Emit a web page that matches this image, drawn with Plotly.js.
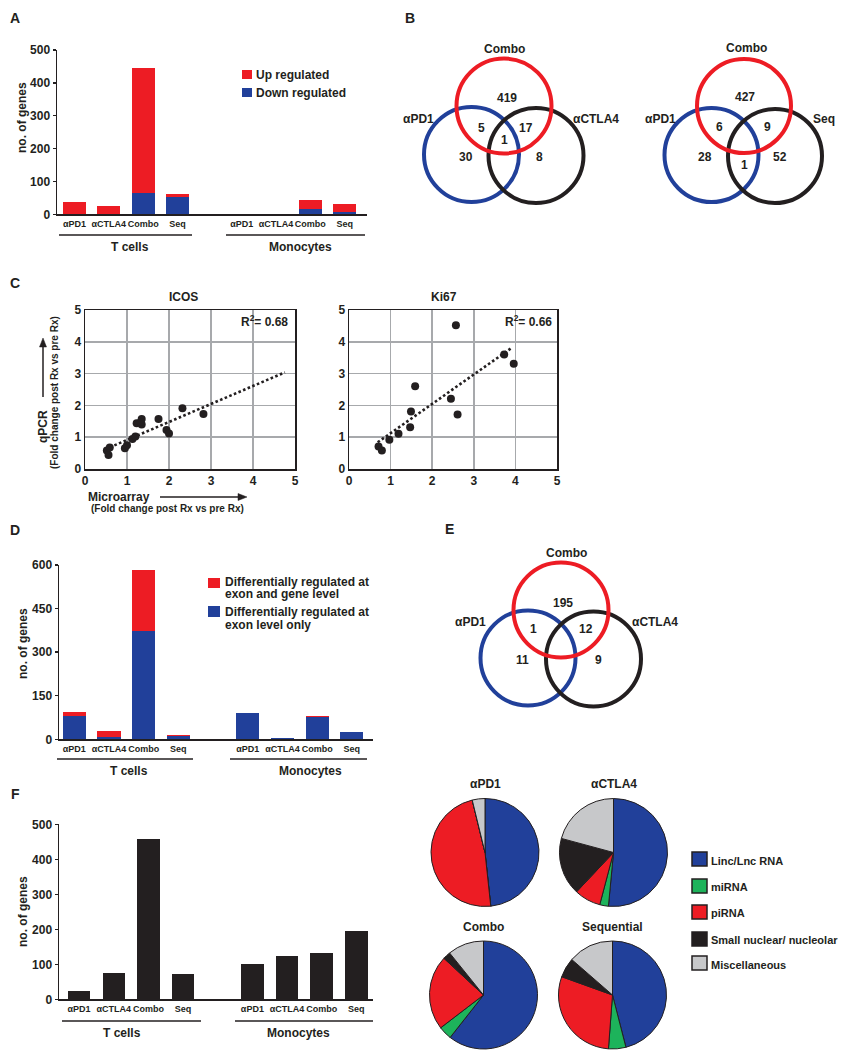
<!DOCTYPE html>
<html><head><meta charset="utf-8">
<script src="https://cdn.plot.ly/plotly-3.0.1.min.js"></script>
<style>html,body{margin:0;padding:0;background:#fff}#chart{width:843px;height:1050px}</style>
</head><body><div id="chart"></div>
<script>
// ---------------- DATA ----------------
const categories = ['αPD1', 'αCTLA4', 'Combo', 'Seq', 'αPD1', 'αCTLA4', 'Combo', 'Seq'];
const groupNames = ['T cells', 'Monocytes'];
const yTitle = 'no. of genes';

// Panel A
const aSeriesNames = ['Up regulated', 'Down regulated'];
const aUpRegulated = [36, 26, 381, 7, 0, 2, 26, 25];
const aDownRegulated = [0, 0, 64, 54, 0, 0, 17, 7];
const aTicks = [0, 100, 200, 300, 400, 500];

// Panel B (Venn counts)
const vennB1Sets = ['Combo', 'αPD1', 'αCTLA4'];
const vennB1Counts = [419, 5, 17, 1, 30, 8];
const vennB2Sets = ['Combo', 'αPD1', 'Seq'];
const vennB2Counts = [427, 6, 9, 28, 1, 52];

// Panel C
const icosMicroarray = [0.52, 0.56, 0.59, 0.95, 1.00, 1.13, 1.20, 1.23, 1.35, 1.35, 1.75, 1.94, 2.00, 2.32, 2.82, 1.33];
const icosQpcr       = [0.58, 0.44, 0.68, 0.65, 0.75, 0.94, 1.02, 1.44, 1.57, 1.40, 1.57, 1.23, 1.12, 1.91, 1.73, 1.48];
const icosTrendX = [0.48, 4.76];
const icosTrendY = [0.62, 3.04];
const icosR2 = '0.68';
const ki67Microarray = [0.71, 0.79, 0.97, 1.19, 1.47, 1.49, 1.59, 2.45, 2.57, 2.61, 3.73, 3.96];
const ki67Qpcr       = [0.71, 0.58, 0.92, 1.11, 1.31, 1.81, 2.60, 2.21, 4.52, 1.71, 3.60, 3.31];
const ki67TrendX = [0.69, 3.91];
const ki67TrendY = [0.84, 3.81];
const ki67R2 = '0.66';
const cTicks = [0, 1, 2, 3, 4, 5];

// Panel D
const dSeriesNames = ['Differentially regulated at<br>exon and gene level', 'Differentially regulated at<br>exon level only'];
const dExonAndGene = [12, 21, 209, 4, 0, 0, 3, 0];
const dExonOnly = [81, 8, 373, 11, 89, 5, 76, 25];
const dTicks = [0, 150, 300, 450, 600];

// Panel E
const vennESets = ['Combo', 'αPD1', 'αCTLA4'];
const vennECounts = [195, 1, 12, 11, 9];

// Panel F
const fCounts = [25, 74, 457, 72, 102, 125, 131, 195];
const fTicks = [0, 100, 200, 300, 400, 500];
const pieTitles = ['αPD1', 'αCTLA4', 'Combo', 'Sequential'];
const pieLabels = ['Linc/Lnc RNA', 'miRNA', 'piRNA', 'Small nuclear/ nucleolar', 'Miscellaneous'];
const pieAPD1   = [48.3, 0, 47.9, 0, 3.8];
const pieACTLA4 = [51.5, 2.6, 7.9, 17.2, 20.8];
const pieCombo  = [60.6, 4.0, 22.3, 2.3, 10.8];
const pieSeq    = [46.0, 5.2, 29.3, 5.9, 13.6];

// ---------------- STYLE / LAYOUT ----------------
const W = 843, H = 1050;
const px = x => x / W;
const py = y => 1 - y / H;
const RED = '#ED1C24', BLUE = '#21409A', BLACK = '#231F20', GREEN = '#1DB35B', GRAY = '#C7C8CA';
const pieColors = [BLUE, GREEN, RED, BLACK, GRAY];
const FONT = 'Liberation Sans, Arial, Helvetica, sans-serif';

const xPos = gap => categories.map((_, i) => i + (i >= 4 ? gap : 0));
const posA = xPos(0.87), posD = xPos(1.0), posF = xPos(1.0);

const annotations = [];
const shapes = [];
function txt(text, x, y, size, o = {}) {
  annotations.push(Object.assign({
    text: '<b>' + text + '</b>', x: px(x), y: py(y), xref: 'paper', yref: 'paper',
    showarrow: false, xanchor: 'center', yanchor: 'middle',
    font: {family: o.family || FONT, size: size, color: BLACK}
  }, o.extra || {}));
}
function line(x0, y0, x1, y1, w = 1.5) {
  shapes.push({type: 'line', xref: 'paper', yref: 'paper', x0: px(x0), y0: py(y0), x1: px(x1), y1: py(y1),
    line: {color: BLACK, width: w}});
}
function rect(x0, y0, x1, y1, color, border) {
  shapes.push({type: 'rect', xref: 'paper', yref: 'paper', x0: px(x0), y0: py(y1), x1: px(x1), y1: py(y0),
    fillcolor: color, line: {color: border || color, width: border ? 1.5 : 0}});
}
function circle(cx, cy, r, color) {
  shapes.push({type: 'circle', xref: 'paper', yref: 'paper', x0: px(cx - r), x1: px(cx + r), y0: py(cy + r), y1: py(cy - r),
    line: {color: color, width: 4}});
}
function tri(pts) {
  const p = pts.map((q, i) => (i ? 'L' : 'M') + px(q[0]) + ',' + py(q[1])).join('') + 'Z';
  shapes.push({type: 'path', xref: 'paper', yref: 'paper', path: p, fillcolor: BLACK, line: {color: BLACK, width: 0.5}});
}

// Panel letters
[['A', 15, 18], ['B', 410, 18], ['C', 15, 283], ['D', 15, 530], ['E', 450, 529], ['F', 15, 794]]
  .forEach(([t, x, y]) => txt(t, x, y, 14));

// Bar axes helpers
function barX(dom, range, pos) {
  return {domain: dom, range: range, tickvals: pos, ticktext: categories, tickangle: 0, showline: true, linecolor: BLACK,
    linewidth: 1.5, ticks: '', showgrid: false, zeroline: false, fixedrange: true,
    tickfont: {family: FONT, size: 9, color: BLACK, weight: 'bold'}};
}
function barY(dom, range, tv) {
  return {domain: dom, range: range, tickvals: tv, showline: true, linecolor: BLACK, linewidth: 1.5,
    ticks: 'outside', ticklen: 3, tickwidth: 1.5, tickcolor: BLACK, showgrid: false, zeroline: false, fixedrange: true,
    tickfont: {family: FONT, size: 12, color: BLACK, weight: 'bold'}};
}
function scatAx(dom, anchor) {
  return {domain: dom, anchor: anchor, range: [0, 5], tickvals: cTicks, showgrid: true, gridcolor: '#A7A9AC', gridwidth: 1.5,
    showline: true, mirror: true, linecolor: BLACK, linewidth: 1.5, zeroline: false, ticks: '', fixedrange: true,
    tickfont: {family: FONT, size: 12, color: BLACK, weight: 'bold'}};
}

// ---- Traces ----
const traces = [];
// A
traces.push({type: 'bar', x: posA, y: aDownRegulated, name: aSeriesNames[1], marker: {color: BLUE}, width: 0.67, xaxis: 'x', yaxis: 'y', showlegend: false});
traces.push({type: 'bar', x: posA, y: aUpRegulated, name: aSeriesNames[0], marker: {color: RED}, width: 0.67, xaxis: 'x', yaxis: 'y', showlegend: false});
// D
traces.push({type: 'bar', x: posD, y: dExonOnly, name: dSeriesNames[1], marker: {color: BLUE}, width: 0.67, xaxis: 'x2', yaxis: 'y2', showlegend: false});
traces.push({type: 'bar', x: posD, y: dExonAndGene, name: dSeriesNames[0], marker: {color: RED}, width: 0.67, xaxis: 'x2', yaxis: 'y2', showlegend: false});
// F
traces.push({type: 'bar', x: posF, y: fCounts, name: yTitle, marker: {color: BLACK}, width: 0.65, xaxis: 'x3', yaxis: 'y3', showlegend: false});
// C
const dotLine = {color: BLACK, width: 2.6, dash: '2.6px,2.4px'};
traces.push({type: 'scatter', mode: 'lines', x: icosTrendX, y: icosTrendY, line: dotLine, xaxis: 'x4', yaxis: 'y4', showlegend: false});
traces.push({type: 'scatter', mode: 'markers', x: icosMicroarray, y: icosQpcr, marker: {color: BLACK, size: 8}, xaxis: 'x4', yaxis: 'y4', showlegend: false, name: 'ICOS'});
traces.push({type: 'scatter', mode: 'lines', x: ki67TrendX, y: ki67TrendY, line: dotLine, xaxis: 'x5', yaxis: 'y5', showlegend: false});
traces.push({type: 'scatter', mode: 'markers', x: ki67Microarray, y: ki67Qpcr, marker: {color: BLACK, size: 8}, xaxis: 'x5', yaxis: 'y5', showlegend: false, name: 'Ki67'});
// Pies
const pieGeom = [[485, 852.5], [613.5, 852.5], [483.5, 995], [612.5, 995]];
const pieR = 54;
[pieAPD1, pieACTLA4, pieCombo, pieSeq].forEach((vals, i) => {
  const [cx, cy] = pieGeom[i];
  traces.push({type: 'pie', labels: pieLabels, values: vals, name: pieTitles[i], sort: false, direction: 'clockwise', rotation: 0,
    textinfo: 'none', showlegend: false, marker: {colors: pieColors, line: {color: BLACK, width: 1}},
    domain: {x: [px(cx - pieR), px(cx + pieR)], y: [py(cy + pieR), py(cy - pieR)]}});
  txt(pieTitles[i], cx, i < 2 ? 784 : 927, 12);
});

// ---- Panel A decorations ----
txt(yTitle, 22, 118, 12, {extra: {textangle: -90}});
line(59, 235, 192, 235); line(226, 235, 365, 235);
txt(groupNames[0], 129.5, 247, 12); txt(groupNames[1], 300, 247, 12);
rect(242, 70, 252, 79, RED); rect(242, 88, 252, 97, BLUE);
txt(aSeriesNames[0], 254, 74.5, 12, {extra: {xanchor: 'left'}});
txt(aSeriesNames[1], 254, 92.5, 12, {extra: {xanchor: 'left'}});

// ---- Panel B Venns ----
function venn(circles, sets, setPos, counts, countPos) {
  circles.forEach(([cx, cy, r, c]) => circle(cx, cy, r, c));
  sets.forEach((s, i) => txt(s, setPos[i][0], setPos[i][1], 12));
  counts.forEach((n, i) => txt(String(n), countPos[i][0], countPos[i][1], 12));
}
venn([[471.5, 154.5, 47.5, BLUE], [536, 155.5, 47.5, BLACK], [504, 106, 47.5, RED]],
  vennB1Sets, [[505, 49], [418, 119], [596, 119]],
  vennB1Counts, [[507, 98], [481, 128], [526, 128], [505, 140], [466, 157], [539, 157]]);
venn([[711.5, 155, 47, BLUE], [775, 156, 47, BLACK], [744, 106, 47, RED]],
  vennB2Sets, [[746.5, 48], [660, 119], [824, 119]],
  vennB2Counts, [[745, 97], [719, 127], [767, 127], [705, 157], [744, 165], [780, 157]]);

// ---- Panel C decorations ----
txt('ICOS', 183, 297, 12); txt('Ki67', 443.5, 297, 12);
txt('R<sup>2</sup>= ' + icosR2, 290, 321, 12, {extra: {xanchor: 'right'}});
txt('R<sup>2</sup>= ' + ki67R2, 554, 321, 12, {extra: {xanchor: 'right'}});
txt('qPCR', 43, 427, 12, {extra: {textangle: -90}});
txt('(Fold change post Rx vs pre Rx)', 54, 393, 10, {extra: {textangle: -90}});
txt('Microarray', 119, 497, 12);
txt('(Fold change post Rx vs pre Rx)', 167, 509, 10);
// arrows (shapes)
line(43, 397, 43, 345);
tri([[43, 338], [39.5, 347], [46.5, 347]]);
line(160, 497, 240, 497);
tri([[247, 497], [238, 493.5], [238, 500.5]]);

// ---- Panel D decorations ----
txt(yTitle, 23, 644, 12, {extra: {textangle: -90}});
line(57, 759, 193, 759); line(230, 759, 367, 759);
txt(groupNames[0], 129, 771, 12); txt(groupNames[1], 310, 771, 12);
rect(208, 578, 220, 588, RED); rect(208, 606, 220, 617, BLUE);
dSeriesNames[0].split('<br>').forEach((l, k) => txt(l, 223, 582 + k * 11.5, 12, {extra: {xanchor: 'left'}}));
dSeriesNames[1].split('<br>').forEach((l, k) => txt(l, 223, 612 + k * 12.5, 12, {extra: {xanchor: 'left'}}));

// ---- Panel E Venn ----
venn([[528, 658, 47.5, BLUE], [593.5, 659, 47.5, BLACK], [561, 610, 47.5, RED]],
  vennESets, [[566, 553], [470.5, 622], [654.5, 622]],
  vennECounts, [[563, 603], [533, 629], [586, 629], [522, 660], [598, 660]]);

// ---- Panel F decorations ----
txt(yTitle, 23, 912, 12, {extra: {textangle: -90}});
line(62, 1021, 201, 1021); line(235, 1021, 373, 1021);
txt(groupNames[0], 122, 1033, 12); txt(groupNames[1], 298, 1033, 12);
const legY = [[852, 866, 861], [879, 893, 887], [905, 919, 913], [932, 946, 940], [956, 970, 965]];
pieLabels.forEach((l, i) => {
  rect(692, legY[i][0], 707, legY[i][1], pieColors[i], BLACK);
  txt(l, 709, legY[i][2], 11, {extra: {xanchor: 'left'}});
});

const layout = {
  width: W, height: H, margin: {l: 0, r: 0, t: 0, b: 0}, paper_bgcolor: '#fff', plot_bgcolor: 'rgba(0,0,0,0)',
  barmode: 'stack', showlegend: false, font: {family: FONT, color: BLACK},
  xaxis: Object.assign(barX([px(57), px(367)], [-0.51, 8.52], posA), {anchor: 'y'}),
  yaxis: Object.assign(barY([py(214.3), py(50)], [0, 500], aTicks), {anchor: 'x'}),
  xaxis2: Object.assign(barX([px(59), px(373)], [-0.44, 8.61], posD), {anchor: 'y2'}),
  yaxis2: Object.assign(barY([py(739.3), py(565)], [0, 600], dTicks), {anchor: 'x2'}),
  xaxis3: Object.assign(barX([px(59), px(373)], [-0.58, 8.48], posF), {anchor: 'y3'}),
  yaxis3: Object.assign(barY([py(999.3), py(824.3)], [0, 500], fTicks), {anchor: 'x3'}),
  xaxis4: scatAx([px(85), px(295)], 'y4'),
  yaxis4: scatAx([py(469), py(310)], 'x4'),
  xaxis5: scatAx([px(349), px(557)], 'y5'),
  yaxis5: scatAx([py(469), py(310)], 'x5'),
  annotations: annotations, shapes: shapes
};
Plotly.newPlot('chart', traces, layout, {displayModeBar: false, staticPlot: true});
</script></body></html>
